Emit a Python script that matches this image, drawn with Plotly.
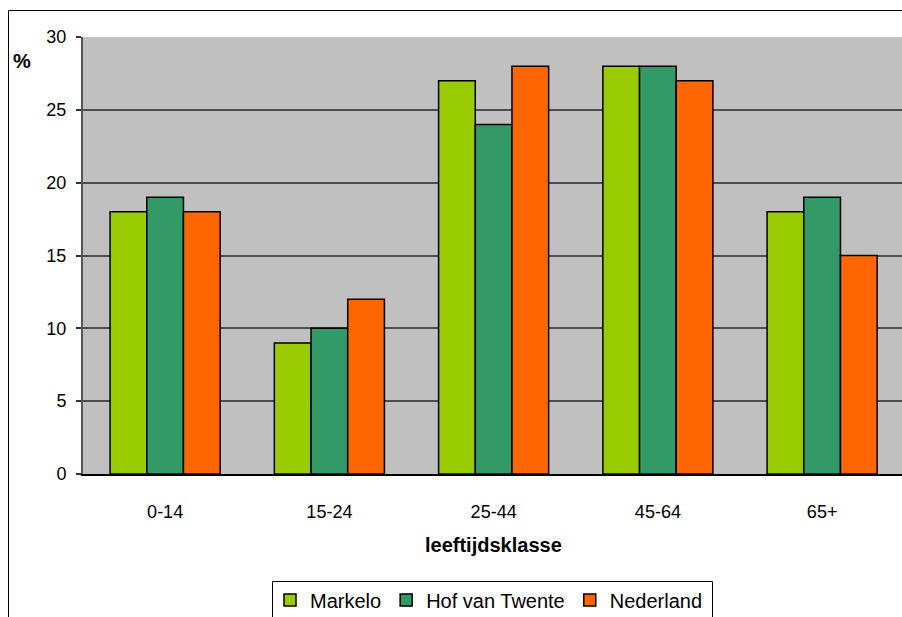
import plotly.graph_objects as go

# Age classes and share of population (%) per area
categories = ["0-14", "15-24", "25-44", "45-64", "65+"]
markelo = [18, 9, 27, 28, 18]
hof_van_twente = [19, 10, 24, 28, 19]
nederland = [18, 12, 28, 27, 15]
y_ticks = [0, 5, 10, 15, 20, 25, 30]

series = [
    ("Markelo", markelo, "#99CC00"),
    ("Hof van Twente", hof_van_twente, "#339966"),
    ("Nederland", nederland, "#FF6600"),
]

W, H = 902, 617
ML, MT, MB, MR = 83, 37, 143, 0
plot_w = W - ML - MR
plot_h = H - MT - MB
cat_px = 164.25  # width of one category in pixels

FONT = "Liberation Sans, Arial, sans-serif"

fig = go.Figure()
for name, vals, color in series:
    fig.add_trace(go.Bar(
        x=list(range(len(categories))),
        y=vals,
        name=name,
        marker=dict(color=color, line=dict(color="#000000", width=1.5)),
    ))


def px_x(px):
    return (px - ML) / plot_w


def px_y(py):
    return (H - MB - py) / plot_h


fig.update_layout(
    width=W,
    height=H,
    margin=dict(l=ML, r=MR, t=MT, b=MB, pad=0, autoexpand=False),
    paper_bgcolor="#FFFFFF",
    plot_bgcolor="#C0C0C0",
    barmode="group",
    bargap=0.33,
    bargroupgap=0,
    font=dict(family=FONT, size=18, color="#000000"),
    showlegend=True,
    legend=dict(
        orientation="h",
        x=px_x(489), xanchor="center",
        y=px_y(600), yanchor="middle",
        bgcolor="rgba(0,0,0,0)",
        borderwidth=0,
        font=dict(family=FONT, size=20, color="#000000"),
        traceorder="normal",
        itemclick=False,
        itemwidth=30,
    ),
    xaxis=dict(
        tickmode="array",
        tickvals=list(range(len(categories))),
        ticktext=categories,
        range=[-0.5, -0.5 + plot_w / cat_px],
        showgrid=False,
        zeroline=False,
        showline=True,
        linecolor="#000000",
        linewidth=1.5,
        ticks="",
        ticklabelstandoff=21,
        tickfont=dict(family=FONT, size=18),
        fixedrange=True,
    ),
    yaxis=dict(
        range=[0, 30],
        tickmode="array",
        tickvals=y_ticks,
        ticktext=[str(v) for v in y_ticks],
        showgrid=True,
        gridcolor="#4d4d4d",
        gridwidth=1.5,
        zeroline=False,
        showline=True,
        linecolor="#555555",
        linewidth=2,
        ticks="outside",
        ticklen=5,
        tickcolor="#333333",
        tickwidth=1.5,
        ticklabelstandoff=6,
        tickfont=dict(family=FONT, size=18),
        fixedrange=True,
    ),
    annotations=[
        dict(
            text="<b>%</b>", xref="paper", yref="paper",
            x=px_x(22), y=px_y(61), xanchor="center", yanchor="middle",
            showarrow=False, font=dict(family=FONT, size=20),
        ),
        dict(
            text="<b>leeftijdsklasse</b>", xref="paper", yref="paper",
            x=px_x(493), y=px_y(545), xanchor="center", yanchor="middle",
            showarrow=False, font=dict(family=FONT, size=20),
        ),
    ],
    shapes=[
        # outer chart frame (left and top edges)
        dict(type="line", xref="paper", yref="paper",
             x0=px_x(8.5), x1=px_x(8.5), y0=px_y(10.5), y1=px_y(H + 5),
             line=dict(color="#000000", width=1)),
        dict(type="line", xref="paper", yref="paper",
             x0=px_x(8.5), x1=px_x(W + 5), y0=px_y(10.5), y1=px_y(10.5),
             line=dict(color="#000000", width=1)),
        # legend box, running past the lower edge of the chart
        dict(type="rect", xref="paper", yref="paper",
             x0=px_x(272.5), x1=px_x(712.5), y0=px_y(581.5), y1=px_y(H + 10),
             line=dict(color="#000000", width=1), fillcolor="rgba(0,0,0,0)"),
    ],
)

fig.write_html("out.html", config={"displayModeBar": False})
